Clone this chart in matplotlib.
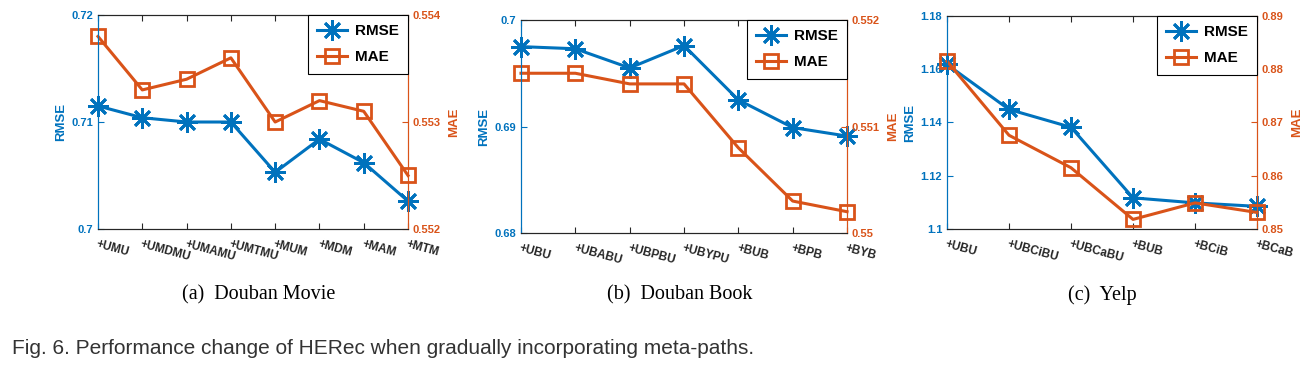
import matplotlib
matplotlib.use('Agg')
import matplotlib.pyplot as plt
from matplotlib.ticker import FixedLocator, FuncFormatter

BLUE = '#0072BD'
ORANGE = '#D95319'
DARK = '#262626'

plt.rcParams['font.family'] = ['Liberation Sans', 'DejaVu Sans']

# (a) Douban Movie
movie_paths = ['+UMU', '+UMDMU', '+UMAMU', '+UMTMU', '+MUM', '+MDM', '+MAM', '+MTM']
movie_rmse = [0.7115, 0.7104, 0.7100, 0.7100, 0.7053, 0.7084, 0.7062, 0.7026]
movie_mae = [0.5538, 0.5533, 0.5534, 0.5536, 0.5530, 0.5532, 0.5531, 0.5525]
movie_rmse_ticks = [0.70, 0.71, 0.72]
movie_mae_ticks = [0.552, 0.553, 0.554]

# (b) Douban Book
book_paths = ['+UBU', '+UBABU', '+UBPBU', '+UBYPU', '+BUB', '+BPB', '+BYB']
book_rmse = [0.6975, 0.6973, 0.6955, 0.6976, 0.6925, 0.6899, 0.6891]
book_mae = [0.5515, 0.5515, 0.5514, 0.5514, 0.5508, 0.5503, 0.5502]
book_rmse_ticks = [0.68, 0.69, 0.70]
book_mae_ticks = [0.550, 0.551, 0.552]

# (c) Yelp
yelp_paths = ['+UBU', '+UBCiBU', '+UBCaBU', '+BUB', '+BCiB', '+BCaB']
yelp_rmse = [1.1618, 1.1449, 1.1382, 1.1117, 1.1098, 1.1085]
yelp_mae = [0.8815, 0.8676, 0.8615, 0.8518, 0.8549, 0.8531]
yelp_rmse_ticks = [1.10, 1.12, 1.14, 1.16, 1.18]
yelp_mae_ticks = [0.85, 0.86, 0.87, 0.88, 0.89]

captions = ['(a)  Douban Movie', '(b)  Douban Book', '(c)  Yelp']
fig_caption = 'Fig. 6. Performance change of HERec when gradually incorporating meta-paths.'

fmt = FuncFormatter(lambda v, p: '%g' % round(v, 4))


def draw_panel(rect, paths, rmse, mae, rmse_ticks, mae_ticks, caption, cap_x):
    ax = fig.add_axes(rect)
    ax2 = ax.twinx()
    x = list(range(len(paths)))
    l1, = ax.plot(x, rmse, color=BLUE, lw=2.2, marker=(8, 2, 0), ms=15,
                  mew=2, clip_on=False, label='RMSE')
    l2, = ax2.plot(x, mae, color=ORANGE, lw=2.2, marker='s', ms=10.5,
                   mfc='none', mew=2, clip_on=False, label='MAE')
    ax.set_xlim(0, len(paths) - 1)
    ax.set_ylim(rmse_ticks[0], rmse_ticks[-1])
    ax2.set_ylim(mae_ticks[0], mae_ticks[-1])
    ax.yaxis.set_major_locator(FixedLocator(rmse_ticks))
    ax2.yaxis.set_major_locator(FixedLocator(mae_ticks))
    ax.yaxis.set_major_formatter(fmt)
    ax2.yaxis.set_major_formatter(fmt)
    ax.set_xticks(x)
    ax.set_xticklabels(paths, rotation=-15, ha='left', va='top',
                       rotation_mode='anchor', fontweight='bold', fontsize=8.5,
                       color=DARK)
    ax.tick_params(axis='x', direction='in', top=True, length=4, pad=7, color=DARK)
    ax.tick_params(axis='y', direction='in', length=4, colors=BLUE, labelsize=8)
    ax2.tick_params(axis='y', direction='in', length=4, colors=ORANGE, labelsize=8)
    for t in ax.get_yticklabels() + ax2.get_yticklabels():
        t.set_fontweight('bold')
    ax.set_ylabel('RMSE', color=BLUE, fontweight='bold', fontsize=9.5, labelpad=3)
    ax2.set_ylabel('MAE', color=ORANGE, fontweight='bold', fontsize=9.5, labelpad=5)
    for a in (ax, ax2):
        a.spines['left'].set_color(BLUE)
        a.spines['right'].set_color(ORANGE)
        a.spines['top'].set_color(DARK)
        a.spines['bottom'].set_color(DARK)
    leg = ax2.legend([l1, l2], ['RMSE', 'MAE'], loc='upper right',
                     borderaxespad=0, fancybox=False, framealpha=1,
                     edgecolor='black', handlelength=2, labelspacing=0.8,
                     borderpad=0.6, handletextpad=0.5,
                     prop={'weight': 'bold', 'size': 11})
    leg.get_frame().set_linewidth(0.8)
    fig.text(cap_x, 0.215, caption, ha='center', va='center',
             family='Liberation Serif', fontsize=14.5)


fig = plt.figure(figsize=(13.12, 3.76), dpi=100)
draw_panel([0.0747, 0.391, 0.2363, 0.569], movie_paths, movie_rmse, movie_mae,
           movie_rmse_ticks, movie_mae_ticks, captions[0], 259 / 1312)
draw_panel([0.3971, 0.3803, 0.2485, 0.5665], book_paths, book_rmse, book_mae,
           book_rmse_ticks, book_mae_ticks, captions[1], 680 / 1312)
draw_panel([0.7218, 0.391, 0.2363, 0.5665], yelp_paths, yelp_rmse, yelp_mae,
           yelp_rmse_ticks, yelp_mae_ticks, captions[2], 1102 / 1312)
fig.text(0.009, 0.074, fig_caption, ha='left', va='center', fontsize=15, color='#333333')

fig.savefig('out.png', dpi=100)
